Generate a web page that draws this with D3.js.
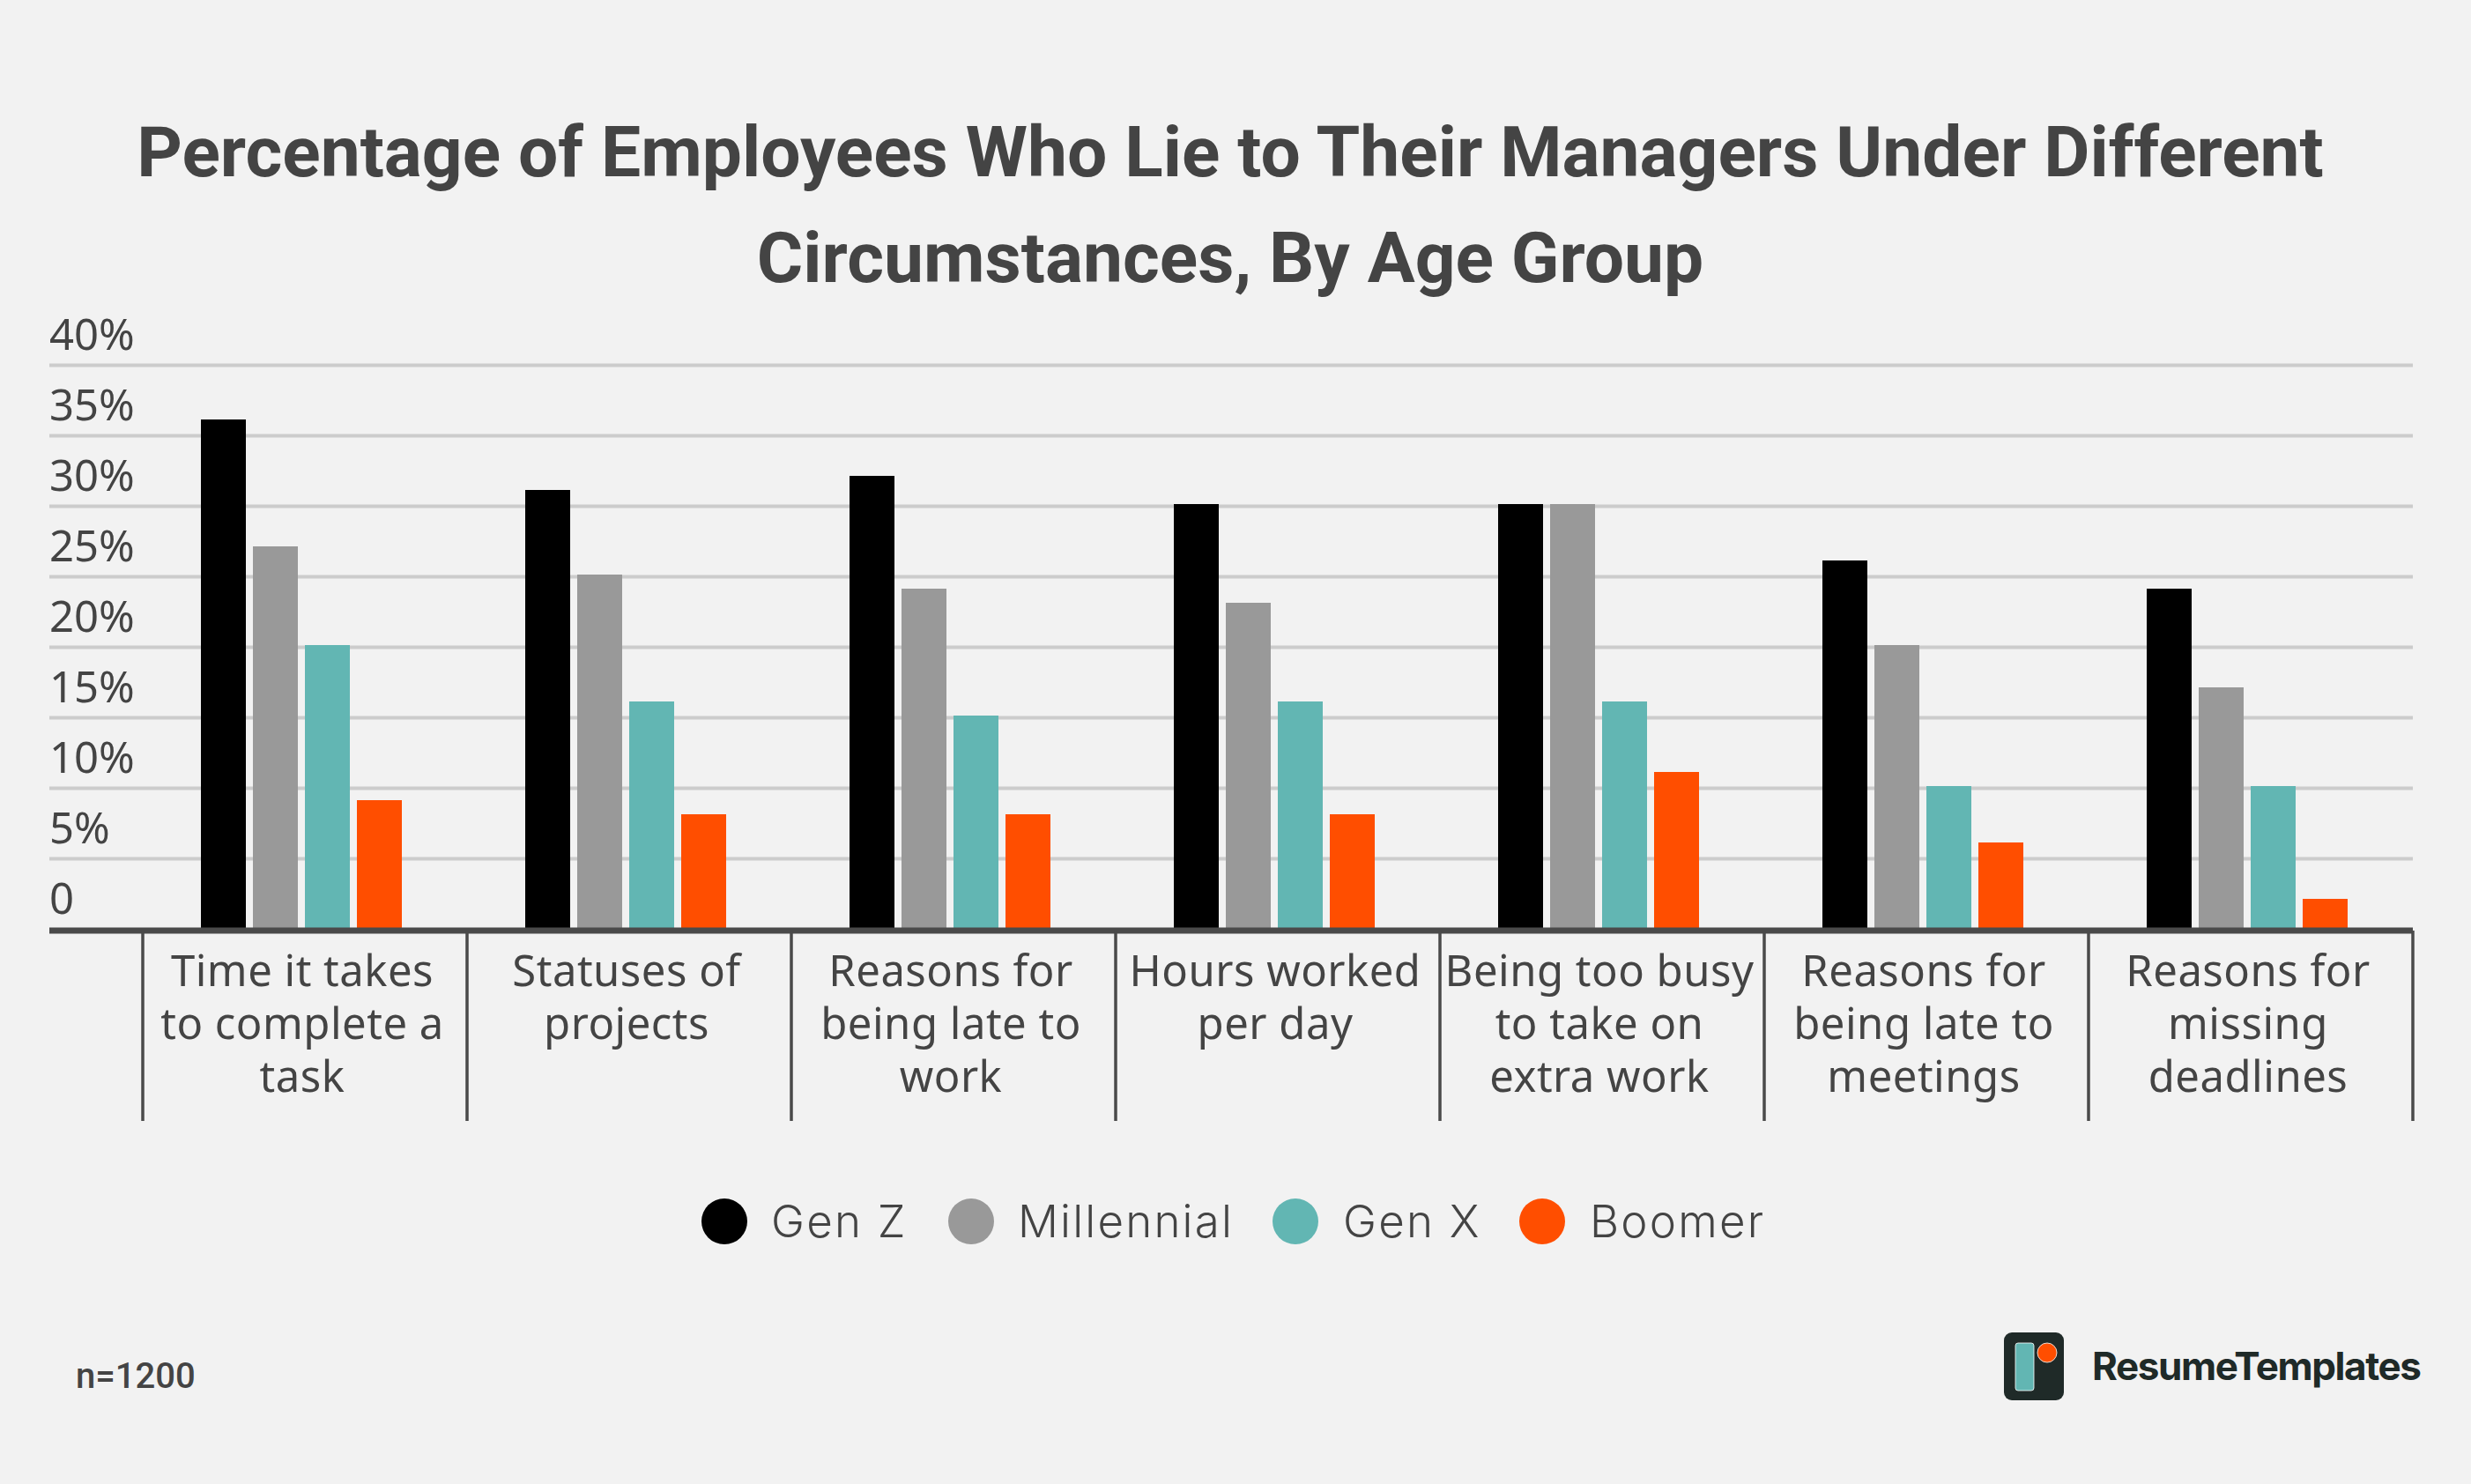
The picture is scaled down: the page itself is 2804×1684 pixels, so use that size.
<!DOCTYPE html>
<html lang="en">
<head>
    <meta charset="utf-8" />
    <title>Employees lying to managers</title>
    <script src="https://cdn.jsdelivr.net/npm/d3@7"></script>
    <style>
        html, body { margin: 0; padding: 0; background: #f2f2f2; }
        svg { display: block; }
    </style>
</head>
<body>
<svg id="chart" width="2804" height="1684"></svg>
<script>
    const titleLines = ["Percentage of Employees Who Lie to Their Managers Under Different", "Circumstances, By Age Group"];
    const categories = [
        ["Time it takes", "to complete a", "task"],
        ["Statuses of", "projects"],
        ["Reasons for", "being late to", "work"],
        ["Hours worked", "per day"],
        ["Being too busy", "to take on", "extra work"],
        ["Reasons for", "being late to", "meetings"],
        ["Reasons for", "missing", "deadlines"]
    ];
    const seriesNames = ["Gen Z", "Millennial", "Gen X", "Boomer"];
    const seriesColors = ["#000000", "#999999", "#62b6b3", "#ff4e00"];
    const genZ = [36, 31, 32, 30, 30, 26, 24];
    const millennial = [27, 25, 24, 23, 30, 20, 17];
    const genX = [20, 16, 15, 16, 16, 10, 10];
    const boomer = [9, 8, 8, 8, 11, 6, 2];
    const yTicks = [0, 5, 10, 15, 20, 25, 30, 35, 40];

    const series = [genZ, millennial, genX, boomer];
    const textColor = "#444444";
    const svg = d3.select("#chart");

    svg.append("g").selectAll("text").data(titleLines).join("text")
        .attr("x", 1396)
        .attr("y", (d, i) => 200 + i * 120)
        .attr("text-anchor", "middle")
        .attr("font-family", "Roboto")
        .attr("font-weight", 700)
        .attr("font-size", 80.3)
        .attr("fill", textColor)
        .text(d => d);

    // scales
    const left = 56, right = 2738, axisLeft = 162;
    const y = d3.scaleLinear().domain([0, 40]).range([1054, 414]);
    const x = d3.scaleBand().domain(d3.range(categories.length)).range([axisLeft, right]);
    const xSeries = d3.scaleBand().domain(d3.range(series.length)).range([66, 294]).paddingInner(0.1356).paddingOuter(0);

    // gridlines and y labels
    const yAxis = d3.axisRight(y)
        .tickValues(yTicks)
        .tickSize(right - left)
        .tickFormat(d => d === 0 ? "0" : d + "%");
    const yG = svg.append("g").attr("transform", `translate(${left},0)`).call(yAxis);
    yG.select(".domain").remove();
    yG.selectAll(".tick line").attr("stroke", "#cccccc").attr("stroke-width", 4);
    yG.selectAll(".tick text")
        .attr("x", 0)
        .attr("dy", -18)
        .attr("text-anchor", "start")
        .attr("font-family", "Noto Sans")
        .attr("font-size", 49)
        .attr("fill", textColor);
    yG.selectAll(".tick").filter(d => d === 0).select("line").remove();

    // bars
    const groups = svg.append("g").selectAll("g").data(categories).join("g")
        .attr("transform", (d, i) => `translate(${x(i)},0)`);
    groups.selectAll("rect").data((d, i) => series.map(s => s[i])).join("rect")
        .attr("x", (d, j) => xSeries(j))
        .attr("y", d => y(d) - 2)
        .attr("width", xSeries.bandwidth())
        .attr("height", d => y(0) - y(d) + 2)
        .attr("fill", (d, j) => seriesColors[j]);

    // x axis: baseline, separators, wrapped labels
    svg.append("line")
        .attr("x1", left).attr("x2", right)
        .attr("y1", y(0) + 2).attr("y2", y(0) + 2)
        .attr("stroke", "#4a4a4a").attr("stroke-width", 7);
    const separators = categories.map((d, i) => x(i)).concat([right]);
    svg.append("g").selectAll("line").data(separators).join("line")
        .attr("x1", d => d).attr("x2", d => d)
        .attr("y1", y(0) + 2).attr("y2", 1272)
        .attr("stroke", "#4a4a4a").attr("stroke-width", 3.5);
    const labels = groups.append("text")
        .attr("text-anchor", "middle")
        .attr("font-family", "Noto Sans")
        .attr("font-size", 49)
        .attr("letter-spacing", 0.5)
        .attr("fill", textColor);
    labels.selectAll("tspan").data(d => d).join("tspan")
        .attr("x", x.bandwidth() / 2 - 3)
        .attr("y", (d, i) => 1119 + i * 60)
        .text(d => d);

    // legend
    const legendCircleX = [822, 1102, 1470, 1750];
    const legendTextX = [875, 1155, 1524, 1804];
    const legend = svg.append("g");
    legend.selectAll("circle").data(seriesNames).join("circle")
        .attr("cx", (d, i) => legendCircleX[i])
        .attr("cy", 1386)
        .attr("r", 26)
        .attr("fill", (d, i) => seriesColors[i]);
    legend.selectAll("text").data(seriesNames).join("text")
        .attr("x", (d, i) => legendTextX[i])
        .attr("y", 1404)
        .attr("font-family", "Inter")
        .attr("font-weight", 300)
        .attr("font-size", 51)
        .attr("letter-spacing", 2.2)
        .attr("fill", textColor)
        .text(d => d);

    // footer
    svg.append("text")
        .attr("x", 86).attr("y", 1575)
        .attr("font-family", "Roboto").attr("font-weight", 500).attr("font-size", 40)
        .attr("fill", textColor)
        .text("n=1200");

    const logo = svg.append("g");
    logo.append("rect").attr("x", 2274).attr("y", 1512).attr("width", 68).attr("height", 77).attr("rx", 9).attr("fill", "#1f2a28");
    logo.append("rect").attr("x", 2287).attr("y", 1524).attr("width", 21).attr("height", 54).attr("rx", 3).attr("fill", "#62b6b3").attr("stroke", "#ffffff").attr("stroke-width", 0.8);
    logo.append("circle").attr("cx", 2323).attr("cy", 1535).attr("r", 11).attr("fill", "#ff4e00").attr("stroke", "#ffffff").attr("stroke-width", 0.8);
    logo.append("text")
        .attr("x", 2374).attr("y", 1566)
        .attr("font-family", "Inter").attr("font-weight", 700).attr("font-size", 44)
        .attr("letter-spacing", -1.4)
        .attr("fill", "#1f2a28")
        .text("ResumeTemplates");
</script>
</body>
</html>
